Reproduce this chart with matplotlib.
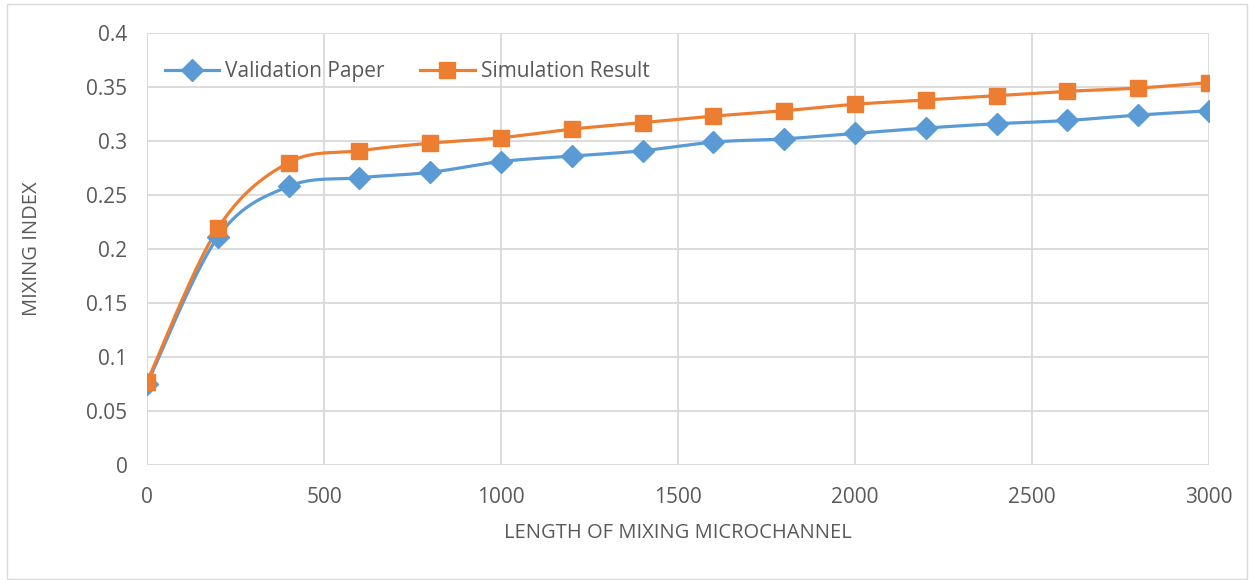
import matplotlib
matplotlib.use('Agg')
import matplotlib.pyplot as plt
from matplotlib.patches import Rectangle
import numpy as np

length = [0, 200, 400, 600, 800, 1000, 1200, 1400, 1600, 1800, 2000,
          2200, 2400, 2600, 2800, 3000]
validation_paper = [0.075, 0.211, 0.258, 0.266, 0.271, 0.281, 0.286, 0.291,
                    0.299, 0.302, 0.307, 0.312, 0.316, 0.319, 0.324, 0.328]
simulation_result = [0.077, 0.219, 0.280, 0.291, 0.298, 0.303, 0.311, 0.317,
                     0.323, 0.328, 0.334, 0.338, 0.342, 0.346, 0.349, 0.354]

blue = '#5B9BD5'
orange = '#ED7D31'
grid_col = '#D9D9D9'
text_col = '#595959'

plt.rcParams['font.family'] = ['Open Sans', 'DejaVu Sans']


def smooth(x, y, n=30):
    # cubic bezier through the points, catmull-rom style control points
    x = np.asarray(x, float)
    y = np.asarray(y, float)
    px = np.concatenate([[x[0]], x, [x[-1]]])
    py = np.concatenate([[y[0]], y, [y[-1]]])
    xs, ys = [], []
    t = np.linspace(0, 1, n)
    for i in range(len(x) - 1):
        p0 = np.array([px[i + 1], py[i + 1]])
        p3 = np.array([px[i + 2], py[i + 2]])
        p1 = p0 + (np.array([px[i + 2], py[i + 2]]) - np.array([px[i], py[i]])) / 6
        p2 = p3 - (np.array([px[i + 3], py[i + 3]]) - np.array([px[i + 1], py[i + 1]])) / 6
        b = ((1 - t)**3)[:, None] * p0 + (3 * (1 - t)**2 * t)[:, None] * p1 \
            + (3 * (1 - t) * t**2)[:, None] * p2 + (t**3)[:, None] * p3
        xs.extend(b[:, 0])
        ys.extend(b[:, 1])
    return xs, ys


fig = plt.figure(figsize=(12.49, 5.8), dpi=100)
fig.patches.append(Rectangle((7 / 1249, 0.002), 1240 / 1249, 1 - 4 / 580 - 0.002,
                             transform=fig.transFigure, fill=False,
                             edgecolor=grid_col, linewidth=1))
ax = fig.add_axes([147 / 1249, 1 - 465 / 580, (1209 - 147) / 1249, (465 - 33) / 580])

for y, col, mk, ms, lab in [(validation_paper, blue, 'D', 11.5, 'Validation Paper'),
                            (simulation_result, orange, 's', 12, 'Simulation Result')]:
    sx, sy = smooth(length, y)
    ax.plot(sx, sy, color=col, lw=2.3, zorder=3, solid_capstyle='round')
    ax.plot(length, y, linestyle='none', marker=mk, markersize=ms, color=col, zorder=4)
    ax.plot([], [], color=col, lw=2.3, marker=mk, markersize=ms, label=lab)

ax.set_xlim(0, 3000)
ax.set_ylim(0, 0.4)
ax.set_xticks(np.arange(0, 3001, 500))
ax.set_yticks(np.arange(0, 0.401, 0.05))
ax.set_yticklabels(['0', '0.05', '0.1', '0.15', '0.2', '0.25', '0.3', '0.35', '0.4'])
ax.grid(True, color=grid_col, linewidth=1.3)
ax.set_axisbelow(True)
for s in ax.spines.values():
    s.set_visible(False)
ax.tick_params(length=0, labelsize=15, labelcolor=text_col)
ax.tick_params(axis='y', pad=14)
ax.tick_params(axis='x', pad=16)

ax.set_xlabel('LENGTH OF MIXING MICROCHANNEL', fontsize=14.5, color=text_col)
ax.set_ylabel('MIXING INDEX', fontsize=14.5, color=text_col)
ax.xaxis.set_label_coords(0.5, -0.135)
ax.yaxis.set_label_coords(-0.099, 0.5)

ax.legend(loc='center left', bbox_to_anchor=(0.017, 0.91), ncol=2, frameon=False,
          fontsize=15, labelcolor=text_col, handlelength=2.6, columnspacing=1.7,
          handletextpad=0.3, borderaxespad=0, borderpad=0)

fig.savefig('out.png', dpi=100)
